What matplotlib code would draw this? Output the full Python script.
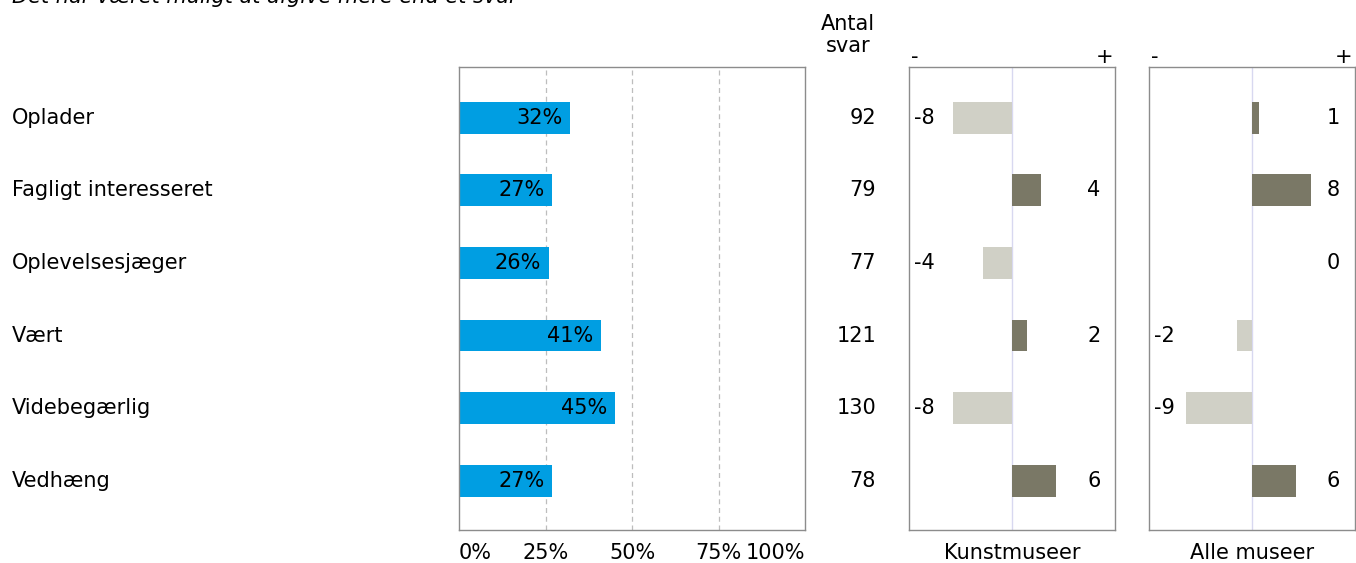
import matplotlib.pyplot as plt
import matplotlib.transforms as mtransforms

plt.rcParams['font.family'] = ['DejaVu Sans']

categories = ['Oplader', 'Fagligt interesseret', 'Oplevelsesjæger', 'Vært', 'Videbegærlig', 'Vedhæng']
share = [32, 27, 26, 41, 45, 27]
antal = [92, 79, 77, 121, 130, 78]
kunst = [-8, 4, -4, 2, -8, 6]
alle = [1, 8, 0, -2, -9, 6]
pct_ticks = [0, 25, 50, 75, 100]
pct_labels = ['0%', '25%', '50%', '75%', '100%']

blue = '#009EE2'
neg_col = '#D0D0C6'
pos_col = '#7A7866'
frame_col = '#8C8C8C'
fs = 15

fig = plt.figure(figsize=(13.56, 5.63), dpi=100)
bottom, height = 0.0586, 0.8224
ax = fig.add_axes([0.3385, bottom, 0.2552, height])
ax1 = fig.add_axes([0.6704, bottom, 0.1519, height])
ax2 = fig.add_axes([0.8473, bottom, 0.1519, height])

y = list(range(len(categories)))
ylim = (5.68, -0.70)

ax.barh(y, share, height=0.44, color=blue)
for yi, v in zip(y, share):
    ax.text(v - 2.2, yi, f'{v}%', ha='right', va='center', fontsize=fs, color='black')
ax.set_xlim(0, 100)
ax.set_ylim(*ylim)
for g in [25, 50, 75]:
    ax.axvline(g, color='#BDBDBD', ls=(0, (4, 3)), lw=0.9, zorder=0)
ax.set_yticks([])
ax.set_xticks(pct_ticks, pct_labels, fontsize=fs)
ax.tick_params(axis='x', length=0, pad=9)
lbls = ax.get_xticklabels()
lbls[0].set_ha('left')
lbls[-1].set_ha('right')

# row labels and Antal svar column
tr = mtransforms.blended_transform_factory(fig.transFigure, ax.transData)
for yi, c, n in zip(y, categories, antal):
    ax.text(12 / 1356, yi, c, transform=tr, ha='left', va='center', fontsize=fs)
    ax.text(876 / 1356, yi, str(n), transform=tr, ha='right', va='center', fontsize=fs)
fig.text(848 / 1356, 1 - 35 / 563, 'Antal\nsvar', ha='center', va='center', fontsize=fs,
         linespacing=1.15)

fig.text(12 / 1356, 1.006, 'Det har været muligt at afgive mere end ét svar', ha='left',
         va='center', fontsize=fs, style='italic')

for a, vals, name in [(ax1, kunst, 'Kunstmuseer'), (ax2, alle, 'Alle museer')]:
    cols = [neg_col if v < 0 else pos_col for v in vals]
    a.barh(y, vals, height=0.44, color=cols)
    a.axvline(0, color='#D8D8F0', lw=1, zorder=0)
    a.set_xlim(-14, 14)
    a.set_ylim(*ylim)
    a.set_xticks([])
    a.set_yticks([])
    a.set_xlabel(name, fontsize=fs, labelpad=9)
    for yi, v in zip(y, vals):
        if v < 0:
            a.text(-13.3, yi, str(v), ha='left', va='center', fontsize=fs)
        else:
            a.text(11.1, yi, str(v), ha='center', va='center', fontsize=fs)
    a.text(0.01, 1.0, '-', transform=a.transAxes, ha='left', va='bottom', fontsize=fs)
    a.text(0.99, 1.0, '+', transform=a.transAxes, ha='right', va='bottom', fontsize=fs)

for a in [ax, ax1, ax2]:
    for s in a.spines.values():
        s.set_color(frame_col)
        s.set_linewidth(1)

fig.savefig('out.png', dpi=100)
